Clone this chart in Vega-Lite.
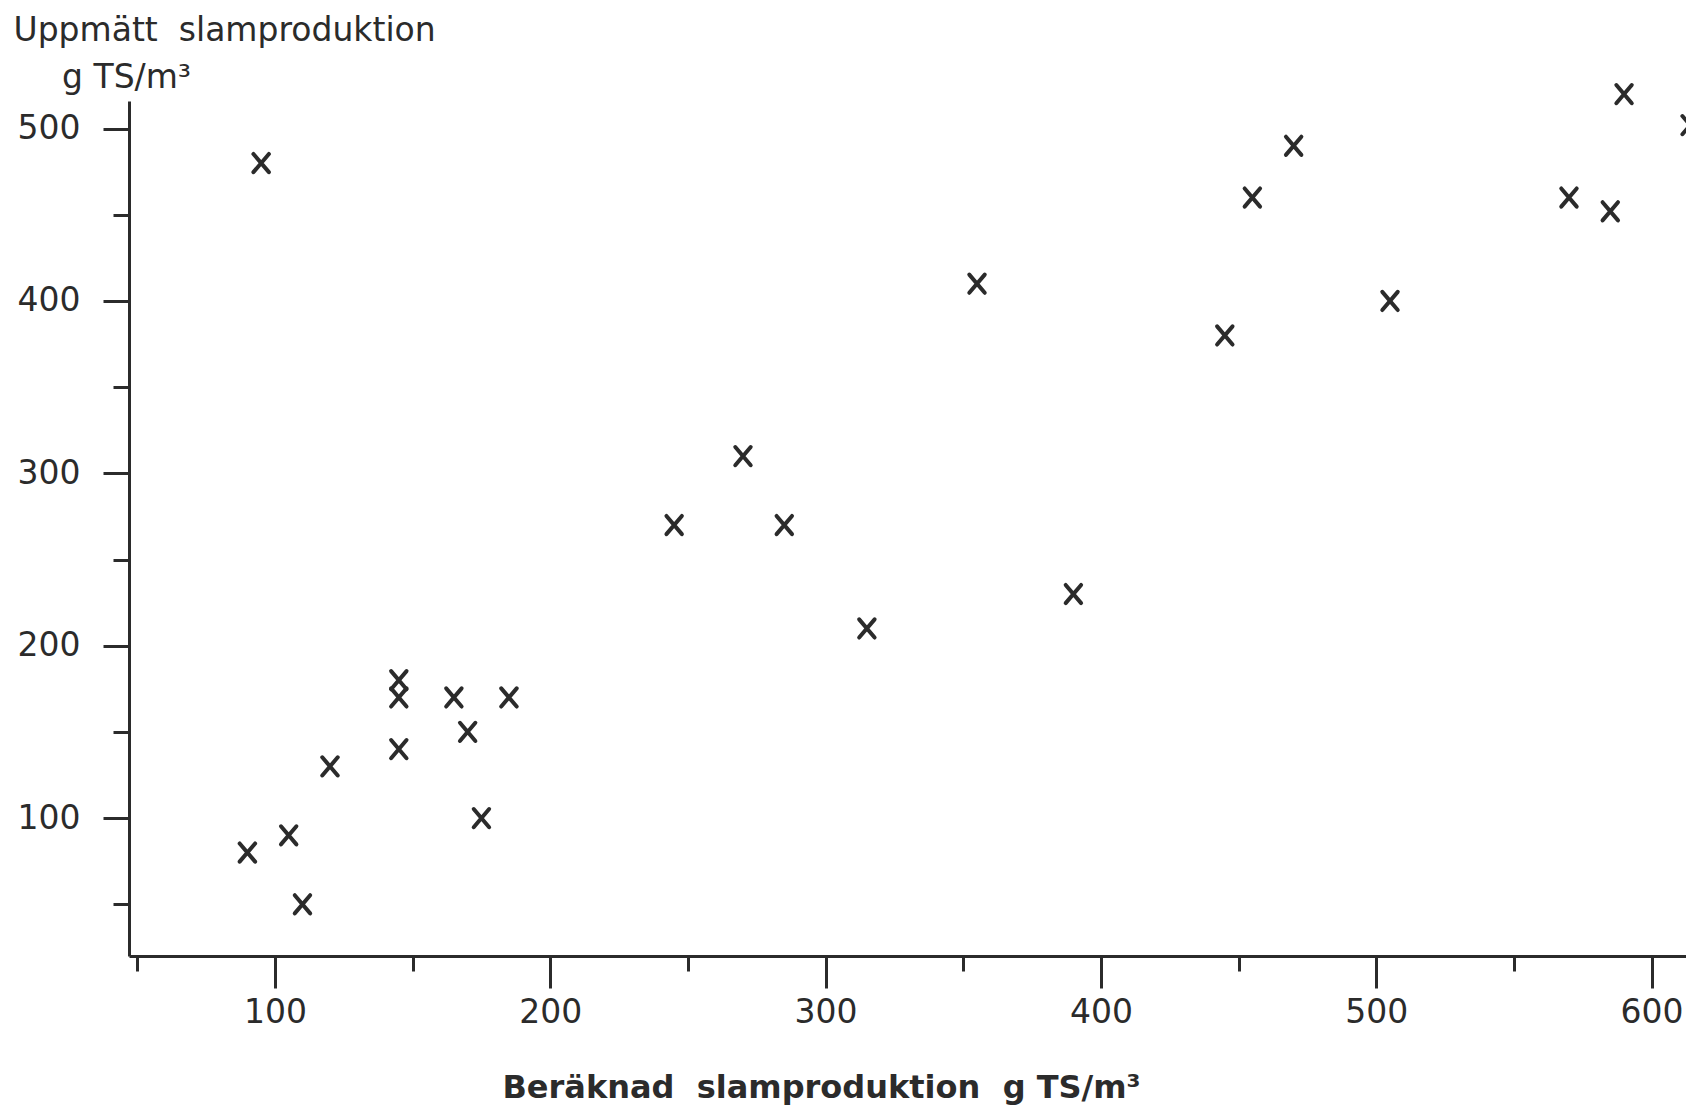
{
  "$schema": "https://vega.github.io/schema/vega-lite/v6.json",
  "autosize": {"type": "none"},
  "padding": {"left": 129, "top": 101, "right": 0, "bottom": 155},
  "width": 1557,
  "height": 855,
  "background": "white",
  "config": {
    "view": {"stroke": null},
    "font": "DejaVu Sans"
  },
  "data": {
    "values": [
      {"beraknad": 95, "uppmatt": 480},
      {"beraknad": 90, "uppmatt": 80},
      {"beraknad": 105, "uppmatt": 90},
      {"beraknad": 110, "uppmatt": 50},
      {"beraknad": 120, "uppmatt": 130},
      {"beraknad": 145, "uppmatt": 180},
      {"beraknad": 145, "uppmatt": 170},
      {"beraknad": 145, "uppmatt": 140},
      {"beraknad": 165, "uppmatt": 170},
      {"beraknad": 170, "uppmatt": 150},
      {"beraknad": 175, "uppmatt": 100},
      {"beraknad": 185, "uppmatt": 170},
      {"beraknad": 245, "uppmatt": 270},
      {"beraknad": 270, "uppmatt": 310},
      {"beraknad": 285, "uppmatt": 270},
      {"beraknad": 315, "uppmatt": 210},
      {"beraknad": 355, "uppmatt": 410},
      {"beraknad": 390, "uppmatt": 230},
      {"beraknad": 445, "uppmatt": 380},
      {"beraknad": 455, "uppmatt": 460},
      {"beraknad": 470, "uppmatt": 490},
      {"beraknad": 505, "uppmatt": 400},
      {"beraknad": 570, "uppmatt": 460},
      {"beraknad": 585, "uppmatt": 452},
      {"beraknad": 590, "uppmatt": 520},
      {"beraknad": 614, "uppmatt": 502}
    ]
  },
  "resolve": {"axis": {"x": "independent", "y": "independent"}},
  "layer": [
    {
      "mark": {
        "type": "point",
        "shape": "M-0.85,-1L0.85,1M-0.85,1L0.85,-1",
        "size": 330,
        "filled": false,
        "stroke": "#2b2b2b",
        "strokeWidth": 4,
        "opacity": 1,
        "strokeCap": "round",
        "clip": false
      },
      "encoding": {
        "x": {
          "field": "beraknad",
          "type": "quantitative",
          "scale": {"domain": [47, 612.5], "nice": false, "zero": false},
          "axis": {
            "orient": "bottom",
            "values": [100, 200, 300, 400, 500, 600],
            "tickSize": 32,
            "tickWidth": 3,
            "tickColor": "#2b2b2b",
            "domainWidth": 3,
            "domainColor": "#2b2b2b",
            "grid": false,
            "labelFont": "DejaVu Sans",
            "labelFontSize": 33,
            "labelColor": "#2b2b2b",
            "labelPadding": 8,
            "title": "Beräknad\u00a0\u00a0slamproduktion\u00a0\u00a0g\u00a0TS/m³",
            "titleFont": "DejaVu Sans",
            "titleFontSize": 32,
            "titleFontWeight": "bold",
            "titleColor": "#2b2b2b",
            "titleX": 692,
            "titleY": 141,
            "titleAlign": "center",
            "titleBaseline": "alphabetic",
            "titleAnchor": null
          }
        },
        "y": {
          "field": "uppmatt",
          "type": "quantitative",
          "scale": {"domain": [20, 516], "nice": false, "zero": false},
          "axis": {
            "orient": "left",
            "values": [100, 200, 300, 400, 500],
            "tickSize": 26,
            "tickWidth": 3,
            "tickColor": "#2b2b2b",
            "domainWidth": 3,
            "domainColor": "#2b2b2b",
            "grid": false,
            "labelFont": "DejaVu Sans",
            "labelFontSize": 33,
            "labelColor": "#2b2b2b",
            "labelPadding": 23,
            "title": ["Uppmätt\u00a0\u00a0slamproduktion", "\u200b\u00a0\u00a0\u00a0\u00a0\u2009g\u00a0TS/m³"],
            "titleFont": "DejaVu Sans",
            "titleFontSize": 33,
            "titleFontWeight": "normal",
            "titleColor": "#2b2b2b",
            "titleAngle": 0,
            "titleX": -116,
            "titleY": -61,
            "titleAlign": "left",
            "titleBaseline": "alphabetic",
            "titleLineHeight": 47,
            "titleAnchor": null
          }
        }
      }
    },
    {
      "mark": {"type": "point", "opacity": 0},
      "encoding": {
        "x": {
          "field": "beraknad",
          "type": "quantitative",
          "axis": {
            "orient": "bottom",
            "values": [50, 150, 250, 350, 450, 550],
            "tickSize": 15,
            "tickWidth": 3,
            "tickColor": "#2b2b2b",
            "domain": false,
            "labels": false,
            "grid": false,
            "title": null
          }
        },
        "y": {
          "field": "uppmatt",
          "type": "quantitative",
          "axis": {
            "orient": "left",
            "values": [50, 150, 250, 350, 450],
            "tickSize": 16,
            "tickWidth": 3,
            "tickColor": "#2b2b2b",
            "domain": false,
            "labels": false,
            "grid": false,
            "title": null
          }
        }
      }
    }
  ]
}
